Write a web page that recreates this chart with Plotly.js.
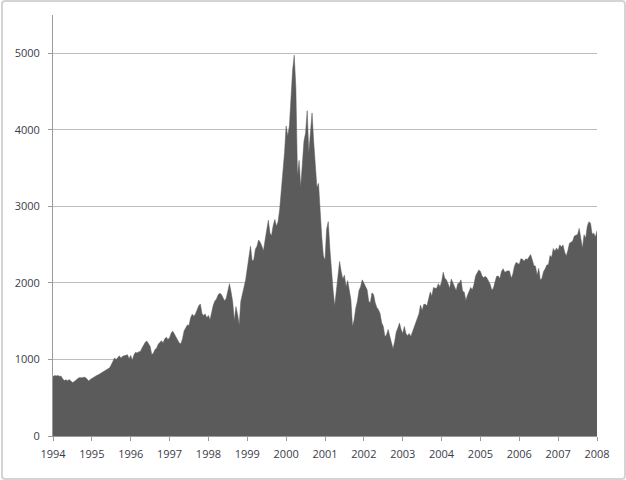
<!DOCTYPE html>
<html>
<head>
<meta charset="utf-8">
<script src="https://cdn.plot.ly/plotly-3.0.1.min.js"></script>
<style>
html,body{margin:0;padding:0;background:#fff;}
#wrap{position:relative;width:626px;height:480px;}
#chart{width:626px;height:480px;}
#frame{position:absolute;left:1px;top:0px;width:621px;height:476px;border:2px solid #d4d4d4;border-radius:4px;pointer-events:none;}
</style>
</head>
<body>
<div id="wrap"><div id="chart"></div><div id="frame"></div></div>
<script>
// Semi-monthly closes (1st and 16th of each month), NASDAQ-like composite index
const v1994 = [776,790,785,790,780,782,745,725,735,722,738,712,700,708,722,745,762,758,762,768,765,745,718,738];
const v1995 = [752,768,785,792,800,812,822,838,848,862,870,890,930,985,1020,998,1030,1048,1015,1042,1048,1058,1062,1010];
const v1996 = [1052,990,1060,1095,1085,1100,1105,1150,1185,1225,1240,1200,1170,1065,1080,1130,1145,1200,1225,1245,1215,1270,1290,1262];
const v1997 = [1285,1345,1370,1330,1300,1255,1215,1205,1270,1375,1405,1450,1445,1545,1590,1565,1595,1660,1700,1725,1600,1575,1595,1545];
const v1998 = [1575,1520,1625,1710,1765,1790,1845,1865,1850,1800,1765,1800,1895,1990,1880,1750,1510,1690,1590,1450,1760,1860,1940,2040];
const v1999 = [2190,2350,2480,2290,2300,2440,2480,2560,2530,2480,2420,2560,2690,2820,2650,2620,2750,2830,2740,2800,2960,3200,3420,3700];
const v2000 = [4050,3920,4050,4420,4780,4975,4550,3400,3600,3250,3580,3850,3960,4250,3700,4000,4220,3850,3600,3250,3300,2900,2600,2350];
const v2001 = [2300,2700,2800,2450,2150,1900,1700,1900,2120,2280,2150,2050,2100,1950,2030,1870,1780,1430,1520,1670,1760,1900,1950,2040];
const v2002 = [1990,1960,1910,1760,1740,1870,1850,1740,1680,1650,1600,1480,1430,1300,1320,1390,1300,1250,1140,1230,1360,1410,1475,1390];
const v2003 = [1340,1430,1340,1310,1340,1300,1360,1400,1470,1540,1595,1710,1640,1720,1720,1700,1810,1880,1830,1940,1930,1930,1990,1950];
const v2004 = [2010,2140,2060,2040,1990,1930,2050,2000,1930,1900,1990,2000,2040,1890,1880,1770,1840,1900,1940,1910,1980,2090,2140,2170];
const v2005 = [2150,2090,2068,2087,2065,2015,1984,1908,1929,2011,2087,2090,2057,2150,2185,2140,2151,2160,2151,2060,2114,2217,2268,2252];
const v2006 = [2243,2317,2310,2282,2314,2306,2336,2370,2304,2229,2219,2100,2190,2037,2061,2149,2184,2235,2237,2358,2334,2449,2413,2457];
const v2007 = [2423,2497,2468,2496,2404,2350,2422,2518,2531,2547,2613,2626,2632,2712,2553,2452,2630,2582,2740,2800,2780,2637,2650,2600];
const vEnd2007 = 2680;

const years = [1994,1995,1996,1997,1998,1999,2000,2001,2002,2003,2004,2005,2006,2007];
const series = [v1994,v1995,v1996,v1997,v1998,v1999,v2000,v2001,v2002,v2003,v2004,v2005,v2006,v2007];
const yTicks = [0,1000,2000,3000,4000,5000];
const xTicks = [1994,1995,1996,1997,1998,1999,2000,2001,2002,2003,2004,2005,2006,2007,2008];

const xs = [], ys = [];
years.forEach((yr, k) => {
  series[k].forEach((v, i) => { xs.push(yr + i / 24); ys.push(v); });
});
xs.push(2008); ys.push(vEnd2007);

const trace = {
  x: xs, y: ys, type: 'scatter', mode: 'lines', fill: 'tozeroy',
  line: {color: '#5b5b5b', width: 0.5}, fillcolor: '#5b5b5b', hoverinfo: 'skip'
};

const tickFont = {family: 'Open Sans, Noto Sans, sans-serif', size: 11, color: '#3c3c4a'};

const layout = {
  width: 626, height: 480,
  margin: {l: 53, r: 29, t: 15, b: 44},
  paper_bgcolor: '#ffffff', plot_bgcolor: '#ffffff',
  showlegend: false,
  xaxis: {
    range: [1994, 2008], tickmode: 'array', tickvals: xTicks, ticktext: xTicks.map(String),
    showgrid: false, zeroline: false, showline: true, linecolor: '#9a9a9a', linewidth: 1,
    ticks: 'outside', ticklen: 4, tickcolor: '#9a9a9a', tickfont: tickFont, ticklabelstandoff: 4
  },
  yaxis: {
    range: [0, 5500], tickmode: 'array', tickvals: yTicks, ticktext: yTicks.map(String),
    showgrid: true, gridcolor: '#bdbdbd', gridwidth: 1, zeroline: false,
    showline: true, linecolor: '#9a9a9a', linewidth: 1,
    ticks: 'outside', ticklen: 4, tickcolor: '#9a9a9a', tickfont: tickFont, ticklabelstandoff: 6
  }
};

Plotly.newPlot('chart', [trace], layout, {staticPlot: true, displayModeBar: false});
</script>
</body>
</html>
